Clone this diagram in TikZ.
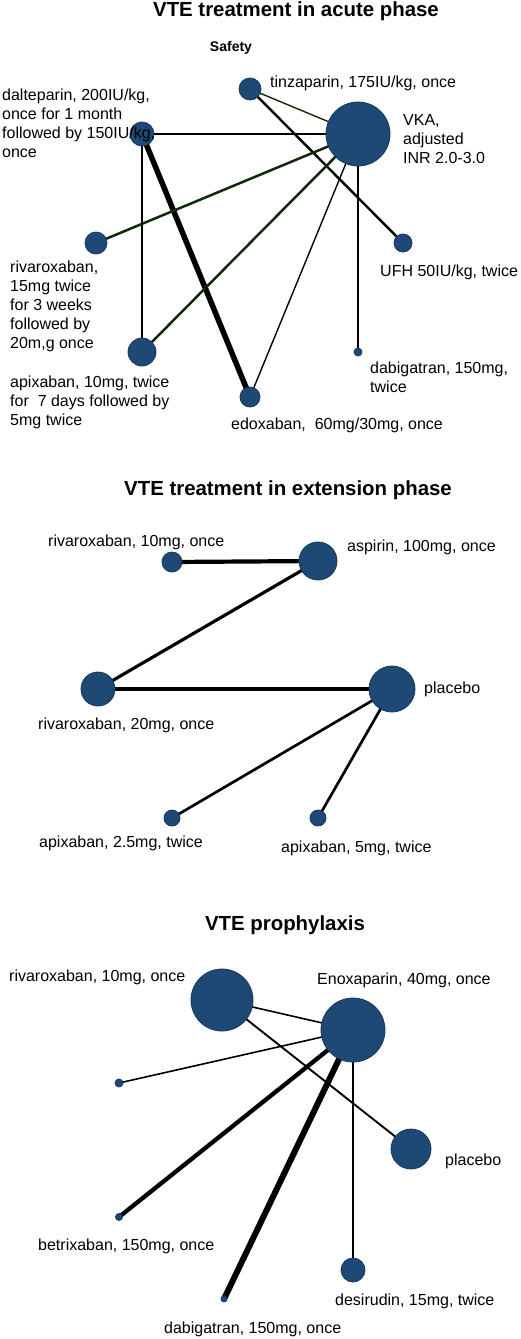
\documentclass[tikz,border=0pt]{standalone}
\usepackage{fontspec}
\setmainfont{Liberation Sans}
\usetikzlibrary{backgrounds}
\definecolor{nodeblue}{RGB}{31,73,117}
\definecolor{nodeedge}{RGB}{22,56,94}
\definecolor{edgegreen}{RGB}{16,42,8}
\begin{document}
\begin{tikzpicture}[x=1pt,y=-1pt,
  trt/.style={circle, fill=nodeblue, draw=nodeedge, line width=0.8pt, inner sep=0pt, minimum size=#1},
  lbl/.style={font=\fontsize{16}{19}\selectfont, inner sep=0pt, align=left, text=black},
  ttl/.style={font=\bfseries\fontsize{20.4}{24}\selectfont, inner sep=0pt},
  sub/.style={font=\bfseries\fontsize{14}{16}\selectfont, inner sep=0pt},
  bedge/.style={draw=black, line width=#1},
  gedge/.style={draw=edgegreen, line width=#1}]
\useasboundingbox (0,0) rectangle (521,1339);

% ---------------- Acute phase ----------------
\node[ttl] (t1) at (296,11) {VTE treatment in acute phase};
\node[sub] (safety) at (231,48) {Safety};

\node[trt=22] (tinz) at (250,89) {};
\node[trt=64] (vka) at (358,134) {};
\node[trt=24] (dalt) at (142,134) {};
\node[trt=22] (riva) at (96,243) {};
\node[trt=18] (ufh) at (403,243) {};
\node[trt=28] (apix) at (142,352) {};
\node[trt=20] (edox) at (250,397) {};
\node[trt=8] (dabi) at (358,352) {};

\begin{pgfonlayer}{background}
\draw[gedge=1.4] (tinz.center) -- (vka.center);
\draw[bedge=2.4] (tinz.center) -- (ufh.center);
\draw[bedge=2.2] (dalt.center) -- (vka.center);
\draw[bedge=2.2] (dalt.center) -- (apix.center);
\draw[bedge=5.5] (dalt.center) -- (edox.center);
\draw[gedge=2.5] (vka.center) -- (riva.center);
\draw[gedge=2.5] (vka.center) -- (apix.center);
\draw[bedge=1.4] (vka.center) -- (edox.center);
\draw[bedge=1.6] (vka.center) -- (dabi.center);
\end{pgfonlayer}

\node[lbl, anchor=west] (ltinz) at (270,83) {tinzaparin, 175IU/kg, once};
\node[lbl, anchor=north west] (lvka) at (403,114) {VKA,\\adjusted\\INR 2.0-3.0};
\node[lbl, anchor=north west] (ldalt) at (2,89) {dalteparin, 200IU/kg,\\once for 1 month\\followed by 150IU/kg,\\once};
\node[lbl, anchor=north west] (lriva) at (10,261) {rivaroxaban,\\15mg twice\\for 3 weeks\\followed by\\20m,g once};
\node[lbl, anchor=north west] (lapix) at (10,376) {apixaban, 10mg, twice\\for \ 7 days followed by\\5mg twice};
\node[lbl, anchor=west] (ledox) at (231,425) {edoxaban, \ 60mg/30mg, once};
\node[lbl, anchor=west] (lufh) at (380,272) {UFH 50IU/kg, twice};
\node[lbl, anchor=north west] (ldabi) at (370,362) {dabigatran, 150mg,\\twice};

% ---------------- Extension phase ----------------
\node[ttl] (t2) at (288,490) {VTE treatment in extension phase};

\node[trt=20] (r10) at (172,562) {};
\node[trt=38] (asp) at (318,561) {};
\node[trt=34] (r20) at (98,689) {};
\node[trt=46] (plac) at (392,689) {};
\node[trt=16] (a25) at (172,818) {};
\node[trt=16] (a5) at (318,818) {};

\begin{pgfonlayer}{background}
\draw[bedge=4.2] (r10.center) -- (asp.center);
\draw[bedge=3.2] (asp.center) -- (r20.center);
\draw[bedge=4.2] (r20.center) -- (plac.center);
\draw[bedge=2.7] (plac.center) -- (a25.center);
\draw[bedge=2.7] (plac.center) -- (a5.center);
\end{pgfonlayer}

\node[lbl, anchor=west] (lr10) at (48,542) {rivaroxaban, 10mg, once};
\node[lbl, anchor=west] (lasp) at (347,547) {aspirin, 100mg, once};
\node[lbl, anchor=west] (lr20) at (38,725) {rivaroxaban, 20mg, once};
\node[lbl, anchor=west] (lplac) at (424,689) {placebo};
\node[lbl, anchor=west] (la25) at (39,843) {apixaban, 2.5mg, twice};
\node[lbl, anchor=west] (la5) at (281,848) {apixaban, 5mg, twice};

% ---------------- Prophylaxis ----------------
\node[ttl] (t3) at (285,925) {VTE prophylaxis};

\node[trt=62] (pr10) at (222,1000) {};
\node[trt=64] (enox) at (353,1030) {};
\node[trt=8] (unl) at (119,1083) {};
\node[trt=40] (pplac) at (411,1149) {};
\node[trt=7] (betr) at (119,1217) {};
\node[trt=24] (desi) at (353,1270) {};
\node[trt=6] (pdab) at (224,1299) {};

\begin{pgfonlayer}{background}
\draw[bedge=1.6] (pr10.center) -- (enox.center);
\draw[bedge=1.9] (pr10.center) -- (pplac.center);
\draw[bedge=1.6] (unl.center) -- (enox.center);
\draw[bedge=4.3] (enox.center) -- (betr.center);
\draw[bedge=6] (enox.center) -- (pdab.center);
\draw[bedge=2.7] (enox.center) -- (desi.center);
\end{pgfonlayer}

\node[lbl, anchor=west] (lpr10) at (9,977) {rivaroxaban, 10mg, once};
\node[lbl, anchor=west] (lenox) at (317,980) {Enoxaparin, 40mg, once};
\node[lbl, anchor=west] (lpplac) at (445,1161) {placebo};
\node[lbl, anchor=west] (lbetr) at (38,1246) {betrixaban, 150mg, once};
\node[lbl, anchor=west] (ldesi) at (335,1301) {desirudin, 15mg, twice};
\node[lbl, anchor=west] (lpdab) at (164,1329) {dabigatran, 150mg, once};
\end{tikzpicture}
\end{document}
